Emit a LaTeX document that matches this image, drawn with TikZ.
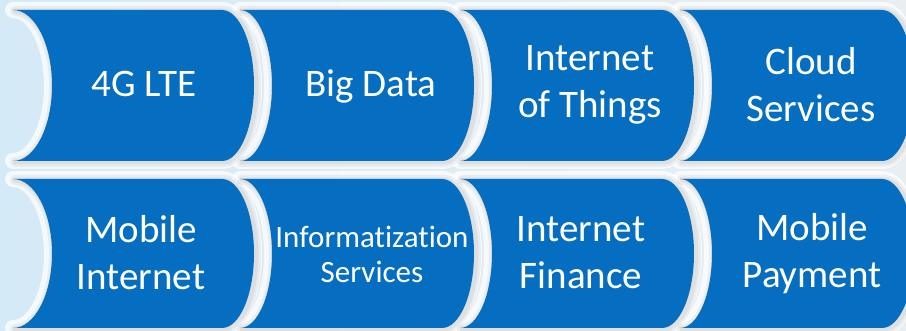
\documentclass[tikz,border=0pt]{standalone}
\usepackage{fontspec}
\setmainfont[Ligatures={NoCommon}]{Carlito}
\definecolor{tileblue}{RGB}{6,110,192}
\definecolor{bgl}{RGB}{212,234,246}
\definecolor{bgr}{RGB}{232,238,242}
\newcommand\shp[6]{%
(#1,#3) -- (#2,#3)
.. controls ({#2+0.5523*#6},#3) and ({#2+#6},{#3+0.5*(#4-#3)*(1-0.5523)}) .. ({#2+#6},{0.5*(#3+#4)})
.. controls ({#2+#6},{#4-0.5*(#4-#3)*(1-0.5523)}) and ({#2+0.5523*#6},#4) .. (#2,#4)
-- (#1,#4)
.. controls ({#1+0.5523*#5},#4) and ({#1+#5},{#4-0.5*(#4-#3)*(1-0.5523)}) .. ({#1+#5},{0.5*(#3+#4)})
.. controls ({#1+#5},{#3+0.5*(#4-#3)*(1-0.5523)}) and ({#1+0.5523*#5},#3) .. (#1,#3) -- cycle}
\tikzset{
  glow/.style={draw=white, draw opacity=0.75, line width=16pt, line join=round},
  shadowA/.style={draw=black, draw opacity=0.05, line width=10pt, line join=round},
  shadowB/.style={draw=black, draw opacity=0.05, line width=5pt, line join=round},
  tile/.style={fill=tileblue},
  txt/.style={text=white, align=center, inner sep=0pt, font=\fontsize{39}{47}\selectfont},
  smalltxt/.style={txt, font=\fontsize{31}{35}\selectfont}
}
\begin{document}
\begin{tikzpicture}[x=1pt,y=-1pt]
\useasboundingbox (0,0) rectangle (906,331);
\clip (0,0) rectangle (906,331);
\shade[left color=bgl, right color=bgr] (0,0) rectangle (906,331);
% white glow
\foreach \t/\b in {10/161,179/328}{
  \foreach \a/\c/\dl in {13/222/39,240/442/32,460/662/32,680/882/32}{
    \path[glow] \shp{\a}{\c}{\t}{\b}{\dl}{32};
  }
}
% soft shadows
\foreach \t/\b in {10/161,179/328}{
  \foreach \a/\c/\dl in {13/222/39,240/442/32,460/662/32,680/882/32}{
    \path[shadowA, xshift=2pt, yshift=-1pt] \shp{\a}{\c}{\t}{\b}{\dl}{32};
    \path[shadowB, xshift=2pt, yshift=-1pt] \shp{\a}{\c}{\t}{\b}{\dl}{32};
  }
}
% tiles
\foreach \t/\b in {10/161,179/328}{
  \foreach \a/\c/\dl in {13/222/39,240/442/32,460/662/32,680/882/32}{
    \path[tile] \shp{\a}{\c}{\t}{\b}{\dl}{32};
  }
}
\node[txt] (t1) at (144,84) {4G LTE};
\node[txt] (t2) at (371,86) {Big Data};
\node[txt] (t3) at (590,85) {Internet\\of Things};
\node[txt] (t4) at (811,85) {Cloud\\Services};
\node[txt] (t5) at (141,253) {Mobile\\Internet};
\node[smalltxt] (t6) at (372,254) {Informatization\\Services};
\node[txt] (t7) at (581,253) {Internet\\Finance};
\node[txt] (t8) at (812,254) {Mobile\\Payment};
\end{tikzpicture}
\end{document}
